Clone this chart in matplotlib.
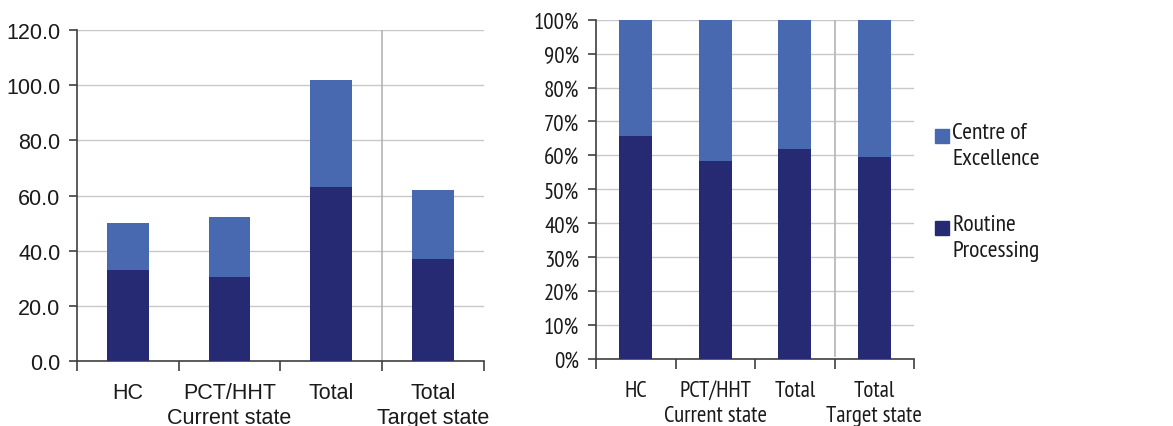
import matplotlib
matplotlib.use("Agg")
import matplotlib.pyplot as plt
from matplotlib.patches import Rectangle
from matplotlib.ticker import FuncFormatter, FixedLocator
import numpy as np

# FTE by area: routine processing vs centre of excellence
categories = ["HC", "PCT/HHT\nCurrent state", "Total", "Total\nTarget state"]
routine = [32.8, 30.4, 63.1, 36.9]
excellence = [17.2, 21.8, 38.9, 25.1]

DARK = "#262a73"
LIGHT = "#4868af"
AXIS = "#404040"
GRID = "#c8c8c8"

REGULAR = ["Liberation Sans", "DejaVu Sans"]
NARROW = ["Liberation Sans Narrow", "Arial Narrow", "PT Sans Narrow", "Archivo Narrow",
          "Liberation Sans", "DejaVu Sans"]
plt.rcParams["font.family"] = REGULAR

fig = plt.figure(figsize=(11.73, 4.27), dpi=100)
ax1 = fig.add_axes([0.0656, 0.1529, 0.347, 0.7738])
ax2 = fig.add_axes([0.5081, 0.1569, 0.2711, 0.7946])

x = np.arange(len(categories))
routine = np.array(routine)
excellence = np.array(excellence)
total = routine + excellence
routine_pct = routine / total * 100
excellence_pct = excellence / total * 100


def style_axes(ax, family, size, xpad):
    ax.set_xlim(-0.5, len(categories) - 0.5)
    for side in ["top", "right"]:
        ax.spines[side].set_visible(False)
    for side in ["left", "bottom"]:
        ax.spines[side].set_color(AXIS)
        ax.spines[side].set_linewidth(1.2)
    ax.grid(axis="y", color=GRID, linewidth=1.0)
    ax.set_axisbelow(True)
    ax.set_xticks(x)
    ax.set_xticklabels(categories, family=family, fontsize=size, color="#1a1a1a",
                       linespacing=1.25)
    ax.xaxis.set_minor_locator(FixedLocator(np.arange(-0.5, len(categories), 1.0)))
    ax.tick_params(axis="x", which="major", length=0, pad=xpad)
    ax.tick_params(axis="x", which="minor", length=7, width=1.2, color=AXIS, direction="out")
    ax.tick_params(axis="y", length=6, width=1.2, color=AXIS, labelsize=size,
                   labelcolor="#1a1a1a", pad=6)
    for lab in ax.get_yticklabels():
        lab.set_family(family)


# absolute values
ax1.bar(x, routine, width=0.41, color=DARK, zorder=3)
ax1.bar(x, excellence, width=0.41, bottom=routine, color=LIGHT, zorder=3)
ax1.set_ylim(0, 120)
ax1.set_yticks(np.arange(0, 121, 20))
ax1.yaxis.set_major_formatter(FuncFormatter(lambda v, p: f"{v:.1f}"))
ax1.axvline(2.5, color="#b4b4b4", linewidth=1.2, zorder=2)
style_axes(ax1, REGULAR, 15.5, 15)

# share of each category
ax2.bar(x, routine_pct, width=0.41, color=DARK, zorder=3)
ax2.bar(x, excellence_pct, width=0.41, bottom=routine_pct, color=LIGHT, zorder=3)
ax2.set_ylim(0, 100)
ax2.set_yticks(np.arange(0, 101, 10))
ax2.yaxis.set_major_formatter(FuncFormatter(lambda v, p: f"{v:.0f}%"))
ax2.plot([2.5, 2.5], [1, 100], color="#b4b4b4", linewidth=1.2, zorder=2)
style_axes(ax2, NARROW, 16.5, 15)

# legend
W, H = 1173.0, 427.0
legend_items = [("Centre of\nExcellence", LIGHT, 130), ("Routine\nProcessing", DARK, 222)]
for label, color, top in legend_items:
    fig.patches.append(Rectangle((935 / W, 1 - (top + 14) / H), 14 / W, 14 / H,
                                 transform=fig.transFigure, color=color))
    fig.text(952 / W, 1 - (top - 7) / H, label, family=NARROW, fontsize=17,
             va="top", ha="left", color="#1a1a1a", linespacing=1.3)

fig.savefig("out.png", dpi=100)
